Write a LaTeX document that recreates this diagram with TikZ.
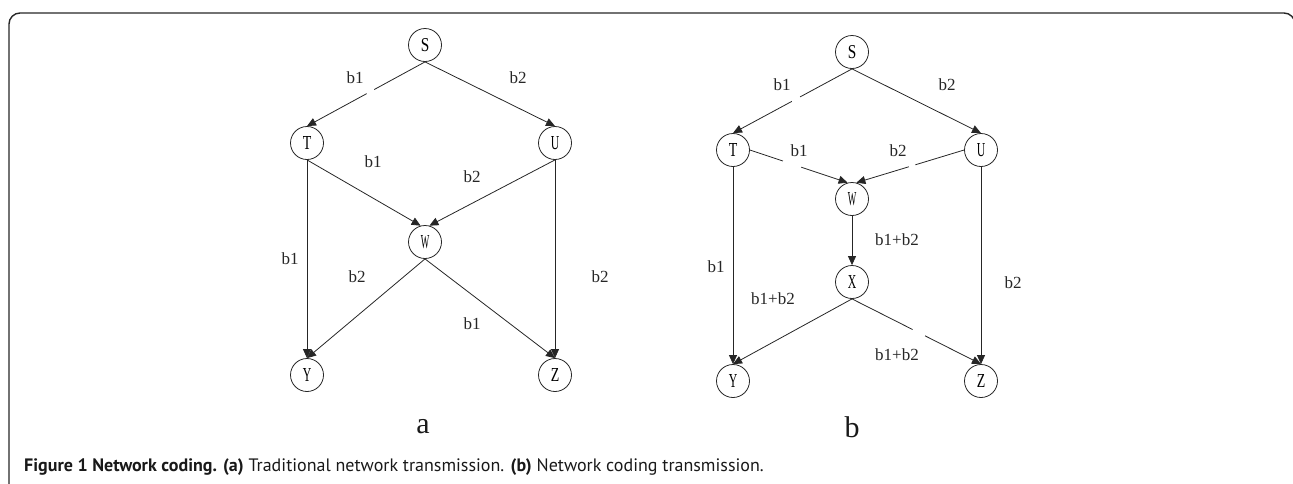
\documentclass[tikz,border=0pt]{standalone}
\usepackage{fontspec}
\setmainfont{Liberation Serif}
\newfontfamily\capfont{PT Sans}
\usetikzlibrary{arrows.meta,calc}
\newcommand{\vl}[1]{\resizebox{8.5pt}{13pt}{#1}}
\tikzset{
  vtx/.style={circle, draw=black!85, line width=0.8pt, minimum size=33pt, inner sep=0pt},
  edge/.style={draw=black!85, line width=0.8pt, -{Triangle[length=9pt,width=8pt]}},
  lbl/.style={font=\fontsize{17}{17}\selectfont, inner sep=0pt, text=black!85},
  gapw/.style={draw=white, line width=3pt},
  sub/.style={font=\fontsize{30}{30}\selectfont, inner sep=0pt, text=black!90},
  frame/.style={draw=black!85, line width=1.4pt, rounded corners=11pt},
}
\begin{document}
\begin{tikzpicture}[x=1pt,y=-1pt]
\clip (0,0) rectangle (1293,483);
\useasboundingbox (0,0) rectangle (1293,483);
\draw[frame] (9,520) -- (9,13) -- (1295,13) -- (1295,520);

% ---------- (a) ----------
\node[vtx] (aS) at (425,45)  {\vl{S}};
\node[vtx] (aT) at (307,143) {\vl{T}};
\node[vtx] (aU) at (555,143) {\vl{U}};
\node[vtx] (aW) at (425,242) {\vl{W}};
\node[vtx] (aY) at (307,375) {\vl{Y}};
\node[vtx] (aZ) at (555,375) {\vl{Z}};

\draw[edge] (aS.south) -- (aT.north);
\draw[edge] (aS.south) -- (aU.north);
\draw[edge] (aT.south) -- (aW.105);
\draw[edge] (aU.south) -- (aW.75);
\draw[edge] (aT.south) -- (aY.north);
\draw[edge] (aU.south) -- (aZ.north);
\draw[edge] (aW.south) -- (aY.north);
\draw[edge] (aW.south) -- (aZ.north);
\draw[gapw, shorten <=58pt, shorten >=68pt] (aS.south) -- (aT.north);

\node[lbl] (la1) at (355,78)  {b1};
\node[lbl] (la2) at (518,78)  {b2};
\node[lbl] (la3) at (373,162) {b1};
\node[lbl] (la4) at (472,177) {b2};
\node[lbl] (la5) at (290,259) {b1};
\node[lbl] (la6) at (357,277) {b2};
\node[lbl] (la7) at (600,277) {b2};
\node[lbl] (la8) at (472,324) {b1};
\node[sub] (suba) at (423,427) {a};

% ---------- (b) ----------
\node[vtx] (bS) at (852,52)  {\vl{S}};
\node[vtx] (bT) at (733,150) {\vl{T}};
\node[vtx] (bU) at (981,150) {\vl{U}};
\node[vtx] (bW) at (852,199) {\vl{W}};
\node[vtx] (bX) at (852,282) {\vl{X}};
\node[vtx] (bY) at (733,381) {\vl{Y}};
\node[vtx] (bZ) at (981,381) {\vl{Z}};

\draw[edge] (bS.south) -- (bT.north);
\draw[edge] (bS.south) -- (bU.north);
\draw[edge] (bT.east) -- (bW.105);
\draw[edge] (bU.west) -- (bW.75);
\draw[edge] (bT.south) -- (bY.north);
\draw[edge] (bU.south) -- (bZ.north);
\draw[edge] (bW.south) -- (bX.north);
\draw[edge] (bX.south) -- (bY.north);
\draw[edge] (bX.south) -- (bZ.north);
\draw[gapw, shorten <=59pt, shorten >=67pt] (bS.south) -- (bT.north);
\draw[gapw, shorten <=35pt, shorten >=49pt] (bT.east) -- (bW.105);
\draw[gapw, shorten <=51pt, shorten >=55pt] (bU.west) -- (bW.75);
\draw[gapw, shorten <=68pt, shorten >=63pt] (bX.south) -- (bZ.north);

\node[lbl] (lb1) at (782,85)  {b1};
\node[lbl] (lb2) at (947,85)  {b2};
\node[lbl] (lb3) at (799,151) {b1};
\node[lbl] (lb4) at (898,151) {b2};
\node[lbl] (lb5) at (897,240) {b1+b2};
\node[lbl] (lb6) at (716,267) {b1};
\node[lbl] (lb7) at (773,299) {b1+b2};
\node[lbl] (lb8) at (1013,283) {b2};
\node[lbl] (lb9) at (897,355) {b1+b2};
\node[sub] (subb) at (852,427) {b};

% ---------- caption ----------
\node[anchor=base west, inner sep=0pt, text=black!90,
      font=\capfont\fontsize{18}{18}\selectfont] (cap) at (24,471)
  {\textbf{Figure 1 Network coding. (a)} Traditional network transmission. \textbf{(b)} Network coding transmission.};
\end{tikzpicture}
\end{document}
